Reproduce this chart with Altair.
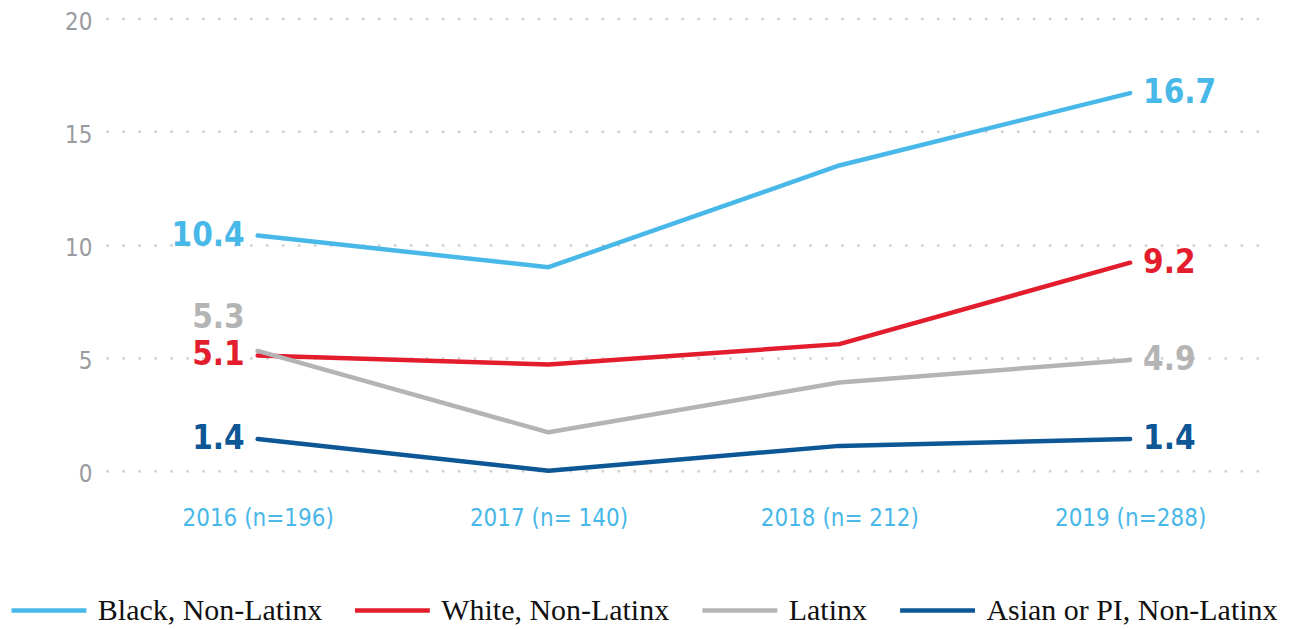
import json
import altair as alt
import pandas as pd

years = ["2016 (n=196)", "2017 (n= 140)", "2018 (n= 212)", "2019 (n=288)"]
groups = ["Black, Non-Latinx", "White, Non-Latinx", "Latinx", "Asian or PI, Non-Latinx"]
black = [10.4, 9.0, 13.5, 16.7]
white = [5.1, 4.7, 5.6, 9.2]
latinx = [5.3, 1.7, 3.9, 4.9]
asian = [1.4, 0.0, 1.1, 1.4]
colors = ["#48b8e8", "#e31d2e", "#b4b4b4", "#0d5797"]

series = [black, white, latinx, asian]
rows = []
for g, vals in zip(groups, series):
    for i, (y, v) in enumerate(zip(years, vals)):
        rows.append({"group": g, "year": y, "idx": i, "value": v})
df = pd.DataFrame(rows)

NARROW = "Liberation Sans Narrow, DejaVu Sans Condensed, Roboto, sans-serif"
SERIF = "Liberation Serif, DejaVu Serif, serif"

label_expr = json.dumps(years) + "[datum.value]"

x_scale = alt.Scale(domain=[-0.522, 3.457], nice=False, zero=False)
x_enc = alt.X("idx:Q", scale=x_scale,
              axis=alt.Axis(title=None, values=[0, 1, 2, 3], labelExpr=label_expr,
                            labelFont=NARROW, labelFontSize=24, labelColor="#48b8e8",
                            labelPadding=36, ticks=False, domain=False, grid=False, labelAngle=0,
                            labelFlush=False))
y_enc = alt.Y("value:Q", scale=alt.Scale(domain=[0, 20], nice=False, zero=True),
              axis=alt.Axis(title=None, values=[0, 5, 10, 15, 20], labelFont=NARROW, labelFontSize=24,
                            labelColor="#9a9ba0", labelPadding=14, labelOffset=4, ticks=False,
                            domain=False, grid=True, gridColor="#cfcfcf", gridWidth=2.5,
                            gridDash=[2.5, 13.5]))
color_enc = alt.Color("group:N", sort=groups, scale=alt.Scale(domain=groups, range=colors),
                      legend=alt.Legend(title=None, orient="none", legendX=-97, legendY=553,
                                        direction="horizontal", symbolType="stroke",
                                        symbolSize=5625, symbolStrokeWidth=4.5,
                                        labelFont=SERIF, labelFontSize=30, labelColor="#111111",
                                        labelOffset=9, columnPadding=23, labelLimit=500))

base = alt.Chart(df)

lines = base.mark_line(strokeWidth=4.5, strokeCap="round", strokeJoin="round").encode(
    x=x_enc, y=y_enc, color=color_enc, order="idx:Q")

label_common = dict(font=NARROW, fontSize=33, fontWeight="bold", baseline="middle")

def label_layer(filt, **kw):
    return base.transform_filter(filt).mark_text(**label_common, **kw).encode(
        x="idx:Q", y="value:Q",
        text=alt.Text("value:Q", format=".1f"),
        color=alt.Color("group:N", sort=groups, scale=alt.Scale(domain=groups, range=colors)))

start_labels = label_layer((alt.datum.idx == 0) & (alt.datum.group != "Latinx"), align="right", dx=-13)
latinx_start = label_layer((alt.datum.idx == 0) & (alt.datum.group == "Latinx"), align="right", dx=-13, dy=-33)
end_labels = label_layer(alt.datum.idx == 3, align="left", dx=13)

chart = alt.layer(lines, start_labels, latinx_start, end_labels).properties(
    width=1159, height=453,
    background="white",
    autosize=alt.AutoSizeParams(type="none"),
    padding={"left": 98, "top": 10, "right": 20, "bottom": 156},
).configure_view(stroke="transparent")

chart.save("out.html", embed_options={"renderer": "svg", "actions": False})
